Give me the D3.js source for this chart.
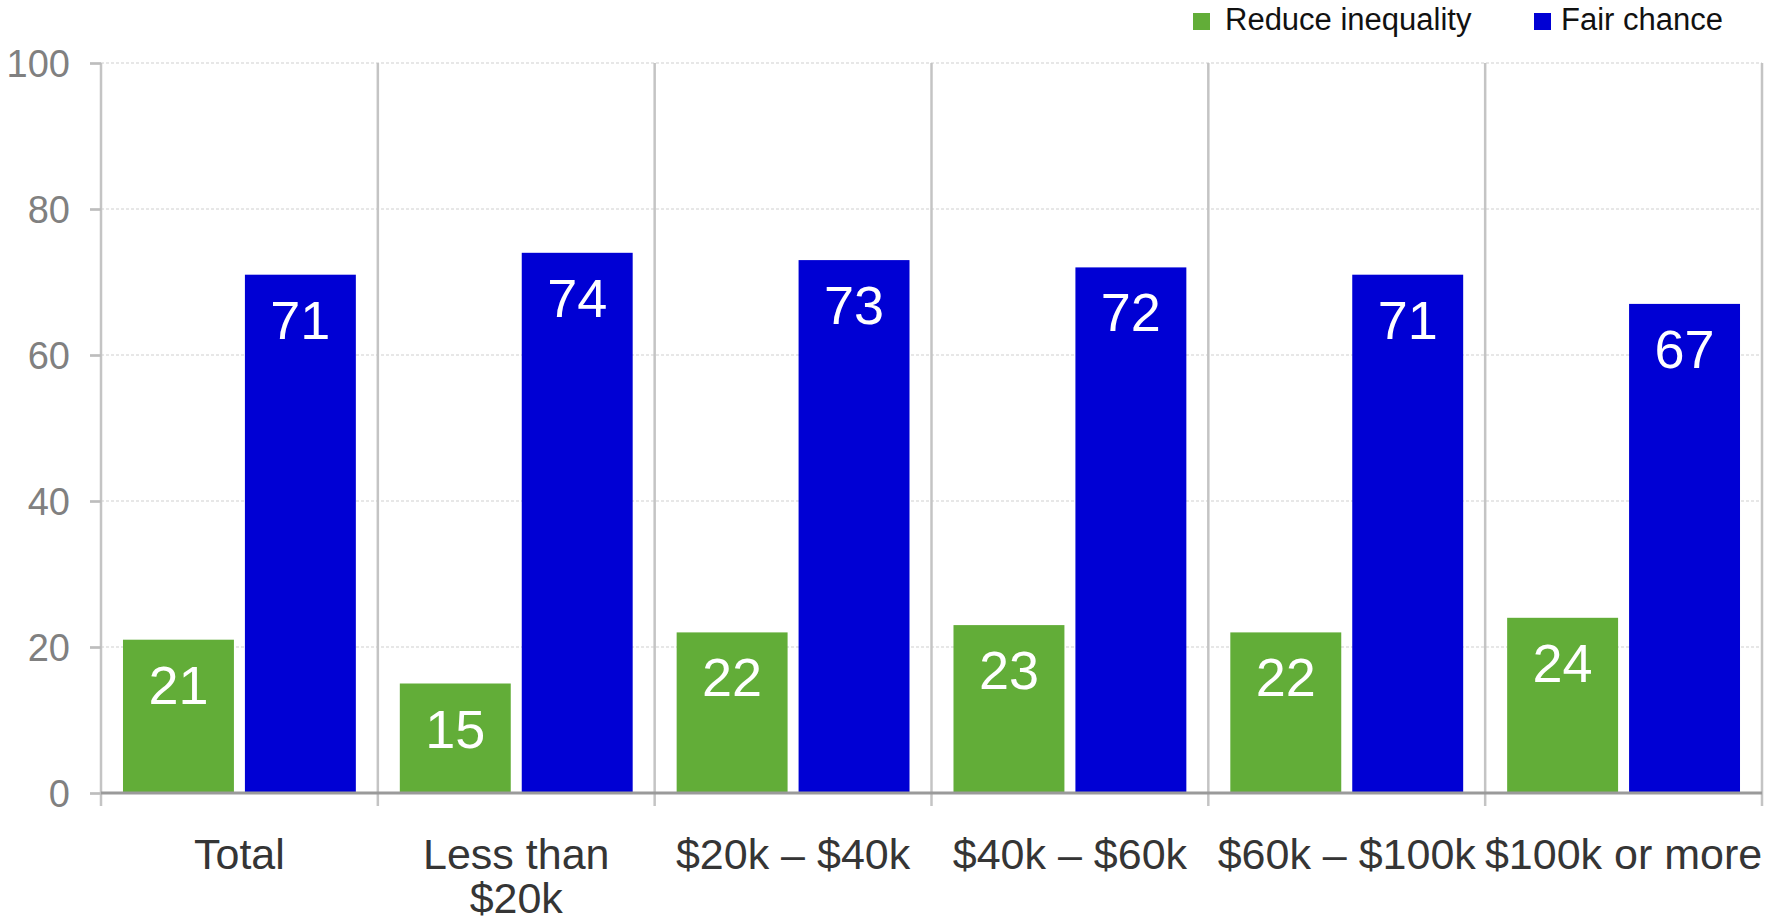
<!DOCTYPE html>
<html>
<head>
<meta charset="utf-8">
<script src="https://cdn.jsdelivr.net/npm/d3@7"></script>
<style>
  html, body { margin: 0; padding: 0; background: #fff; }
  svg { display: block; font-family: "Liberation Sans", Arial, Helvetica, sans-serif; }
</style>
</head>
<body>
<svg id="chart" width="1781" height="923"></svg>
<script>
const categories = ["Total", "Less than $20k", "$20k \u2013 $40k", "$40k \u2013 $60k", "$60k \u2013 $100k", "$100k or more"];
const seriesNames = ["Reduce inequality", "Fair chance"];
const reduceInequality = [21, 15, 22, 23, 22, 24];
const fairChance = [71, 74, 73, 72, 71, 67];
const yTicks = [0, 20, 40, 60, 80, 100];
const colors = ["#62ad38", "#0000d4"];

(function () {
const seriesValues = [reduceInequality, fairChance];
const rows = categories.map((c, i) => ({ cat: c, vals: seriesNames.map((s, j) => ({ key: s, value: seriesValues[j][i], idx: j })) }));

const svg = d3.select("#chart");
const pLeft = 101, pRight = 1762, pTop = 63, pBottom = 793;

const x0 = d3.scaleBand().domain(categories).range([pLeft, pRight]).paddingInner(0).paddingOuter(0);
const x1 = d3.scaleBand().domain(seriesNames).range([0, x0.bandwidth()]).paddingInner(11 / 122).paddingOuter(22 / 122);
const y = d3.scaleLinear().domain([0, 100]).range([pBottom, pTop]);

// gridlines
svg.append("g").selectAll("line").data(yTicks.filter(d => d > 0)).join("line")
  .attr("x1", pLeft).attr("x2", pRight)
  .attr("y1", d => y(d)).attr("y2", d => y(d))
  .attr("stroke", "#cfcfcf").attr("stroke-width", 1).attr("stroke-dasharray", "3,2");

// bars
const groups = svg.append("g").selectAll("g").data(rows).join("g")
  .attr("transform", d => `translate(${x0(d.cat)},0)`);
groups.selectAll("rect").data(d => d.vals).join("rect")
  .attr("x", d => x1(d.key)).attr("width", x1.bandwidth())
  .attr("y", d => y(d.value)).attr("height", d => y(0) - y(d.value))
  .attr("fill", d => colors[d.idx]);
groups.selectAll("text").data(d => d.vals).join("text")
  .attr("x", d => x1(d.key) + x1.bandwidth() / 2)
  .attr("y", d => y(d.value) + 64)
  .attr("text-anchor", "middle")
  .attr("fill", "#ffffff").attr("font-size", 54)
  .text(d => d.value);

// category separators
const seps = categories.map(c => x0(c)).concat([pRight]);
svg.append("g").selectAll("line").data(seps).join("line")
  .attr("x1", d => d).attr("x2", d => d)
  .attr("y1", pTop).attr("y2", pBottom + 13)
  .attr("stroke", "#c4c4c4").attr("stroke-width", 2.5);

// x axis baseline
svg.append("line").attr("x1", pLeft).attr("x2", pRight).attr("y1", pBottom).attr("y2", pBottom)
  .attr("stroke", "#9a9a9a").attr("stroke-width", 3);

// y axis
const yAxis = d3.axisLeft(y).tickValues(yTicks).tickSize(11).tickPadding(20).tickFormat(d3.format("d"));
const ya = svg.append("g").attr("transform", `translate(${pLeft},0)`).call(yAxis);
ya.select(".domain").remove();
ya.selectAll(".tick line").attr("stroke", "#bdbdbd").attr("stroke-width", 2.7);
ya.selectAll(".tick text").attr("fill", "#808080").attr("font-size", 38)
  .attr("font-family", "Liberation Sans, Arial, sans-serif").attr("dy", "0.36em");

// x labels with wrapping
const xa = svg.append("g");
const xl = xa.selectAll("text").data(categories).join("text")
  .attr("x", d => x0(d) + x0.bandwidth() / 2)
  .attr("y", 869)
  .attr("text-anchor", "middle").attr("fill", "#353535").attr("font-size", 43);
xl.each(function(d) {
  const t = d3.select(this);
  const words = d.split(" ");
  let lines = [], line = [];
  const maxW = x0.bandwidth() + 1;
  const tmp = t.append("tspan");
  words.forEach(w => {
    const trial = line.concat([w]).join(" ");
    tmp.text(trial);
    if (tmp.node().getComputedTextLength() > maxW && line.length) {
      lines.push(line.join(" "));
      line = [w];
    } else {
      line.push(w);
    }
  });
  lines.push(line.join(" "));
  tmp.remove();
  lines.forEach((l, i) => {
    t.append("tspan").attr("x", x0(d) + x0.bandwidth() / 2).attr("dy", i === 0 ? 0 : 44).text(l);
  });
});

// legend
const legendPos = [{ sx: 1193, tx: 1225 }, { sx: 1534, tx: 1561 }];
const lg = svg.append("g").selectAll("g").data(seriesNames).join("g");
lg.append("rect").attr("x", (d, i) => legendPos[i].sx).attr("y", 13).attr("width", 17).attr("height", 17)
  .attr("fill", (d, i) => colors[i]);
lg.append("text").attr("x", (d, i) => legendPos[i].tx).attr("y", 30)
  .attr("font-size", 31).attr("fill", "#111").text(d => d);
})();
</script>
</body>
</html>
